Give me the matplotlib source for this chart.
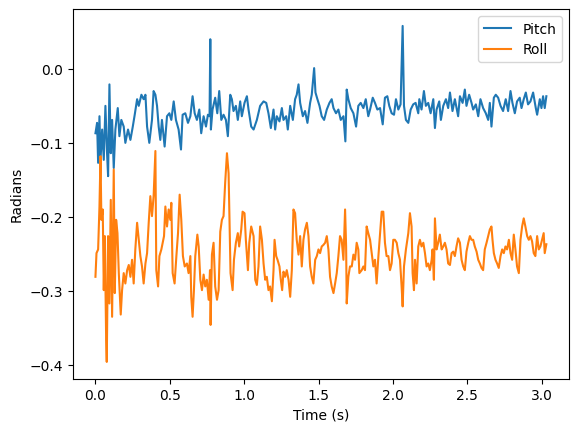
import matplotlib
matplotlib.use("Agg")
import matplotlib.pyplot as plt

# values (time in s, angle in radians)
pitch_t = [0.000, 0.011, 0.018, 0.027, 0.034, 0.045, 0.056, 0.067, 0.078, 0.085,
           0.094, 0.103, 0.112, 0.123, 0.134, 0.150, 0.161, 0.174, 0.190, 0.201,
           0.219, 0.235, 0.251, 0.264, 0.280, 0.291, 0.309, 0.324, 0.336, 0.347,
           0.362, 0.380, 0.391, 0.403, 0.414, 0.425, 0.436, 0.447, 0.465, 0.481,
           0.497, 0.510, 0.526, 0.541, 0.559, 0.575, 0.586, 0.604, 0.622, 0.638,
           0.653, 0.667, 0.682, 0.698, 0.711, 0.727, 0.743, 0.756, 0.767, 0.772,
           0.776, 0.787, 0.805, 0.819, 0.832, 0.846, 0.861, 0.877, 0.890, 0.906,
           0.917, 0.928, 0.944, 0.957, 0.973, 0.984, 1.002, 1.018, 1.029, 1.047,
           1.063,
           1.085, 1.107, 1.130, 1.148, 1.163, 1.179, 1.197, 1.208, 1.219, 1.237,
           1.253, 1.264, 1.282, 1.293, 1.309, 1.327, 1.342, 1.353, 1.365, 1.376,
           1.394, 1.409, 1.425, 1.443, 1.454, 1.470, 1.479, 1.492, 1.506, 1.521,
           1.537, 1.555, 1.573, 1.588, 1.600, 1.617, 1.633, 1.649, 1.667, 1.680,
           1.689, 1.700, 1.716, 1.734, 1.752, 1.767, 1.783, 1.801, 1.817, 1.834,
           1.846, 1.864, 1.879, 1.895, 1.913, 1.931, 1.946, 1.962, 1.975, 1.991,
           2.007, 2.020, 2.036, 2.051, 2.065, 2.074, 2.087, 2.103, 2.119, 2.136,
           2.152, 2.170,
           2.177, 2.192, 2.208, 2.221, 2.237, 2.253, 2.271, 2.282, 2.293, 2.311,
           2.322, 2.338, 2.356, 2.371, 2.383, 2.400, 2.416, 2.438, 2.450, 2.468,
           2.483, 2.494, 2.512, 2.528, 2.539, 2.557, 2.573, 2.588, 2.606, 2.624,
           2.640, 2.651, 2.662, 2.678, 2.691, 2.707, 2.723, 2.740, 2.758, 2.774,
           2.790, 2.803, 2.819, 2.834, 2.852, 2.864, 2.879, 2.893, 2.908, 2.924,
           2.942, 2.960, 2.969, 2.987, 2.998, 3.009, 3.020, 3.031]
pitch = [-0.087, -0.073, -0.127, -0.064, -0.123, -0.082, -0.123, -0.050, -0.114, -0.145,
         -0.021, -0.114, -0.069, -0.134, -0.082, -0.053, -0.091, -0.069, -0.078, -0.100,
         -0.082, -0.096, -0.078, -0.062, -0.041, -0.050, -0.035, -0.041, -0.035, -0.078,
         -0.100, -0.069, -0.030, -0.035, -0.050, -0.078, -0.096, -0.069, -0.105, -0.064,
         -0.060, -0.069, -0.044, -0.069, -0.082, -0.109, -0.062, -0.060, -0.073, -0.064,
         -0.037, -0.060, -0.069, -0.055, -0.087, -0.064, -0.078, -0.062, -0.064, 0.040,
         -0.082, -0.055, -0.039, -0.060, -0.030, -0.069, -0.062, -0.069, -0.091, -0.035,
         -0.041, -0.057, -0.050, -0.069, -0.044, -0.064, -0.046, -0.037, -0.055, -0.078,
         -0.082,
         -0.069, -0.050, -0.044, -0.046, -0.060, -0.080, -0.055, -0.082, -0.064, -0.071,
         -0.053, -0.069, -0.064, -0.082, -0.050, -0.069, -0.041, -0.035, -0.021, -0.046,
         -0.064, -0.057, -0.073, -0.046, -0.035, 0.001, -0.032, -0.041, -0.050, -0.064,
         -0.069, -0.055, -0.046, -0.041, -0.053, -0.060, -0.055, -0.069, -0.064, -0.098,
         -0.028, -0.041, -0.053, -0.060, -0.078, -0.050, -0.046, -0.053, -0.041, -0.064,
         -0.055, -0.039, -0.046, -0.055, -0.053, -0.075, -0.039, -0.037, -0.050, -0.060,
         -0.062, -0.041, -0.055, -0.048, 0.058, -0.050, -0.069, -0.073, -0.055, -0.048,
         -0.046, -0.060,
         -0.041, -0.055, -0.030, -0.050, -0.046, -0.060, -0.041, -0.080, -0.055, -0.044,
         -0.069, -0.050, -0.041, -0.053, -0.032, -0.057, -0.041, -0.064, -0.037, -0.046,
         -0.028, -0.050, -0.035, -0.046, -0.055, -0.048, -0.064, -0.041, -0.053, -0.060,
         -0.069, -0.046, -0.078, -0.039, -0.035, -0.039, -0.050, -0.057, -0.041, -0.057,
         -0.030, -0.046, -0.060, -0.044, -0.039, -0.053, -0.041, -0.032, -0.048, -0.044,
         -0.032, -0.053, -0.062, -0.041, -0.053, -0.037, -0.053, -0.037]

roll_t = [0.000, 0.007, 0.018, 0.027, 0.034, 0.040, 0.049, 0.056, 0.063, 0.072,
          0.076, 0.085, 0.094, 0.103, 0.112, 0.123, 0.130, 0.139, 0.148, 0.157,
          0.170, 0.179, 0.190, 0.201, 0.213, 0.224, 0.235, 0.246, 0.257, 0.268,
          0.280, 0.291, 0.302, 0.313, 0.324, 0.336, 0.347, 0.358, 0.369, 0.380,
          0.391, 0.403, 0.409, 0.421, 0.430, 0.443, 0.452, 0.461, 0.470, 0.481,
          0.492, 0.503, 0.510, 0.519, 0.532, 0.544, 0.555, 0.566, 0.577, 0.588,
          0.600, 0.615, 0.626, 0.638, 0.644, 0.653, 0.662, 0.671, 0.685, 0.694,
          0.705, 0.716, 0.727, 0.738, 0.749, 0.761, 0.770, 0.774, 0.783, 0.794,
          0.805, 0.817, 0.828, 0.839, 0.850, 0.861, 0.872, 0.884, 0.895, 0.908,
          0.922, 0.931, 0.944, 0.957, 0.966, 0.980, 0.989, 1.002, 1.011, 1.025,
          1.034, 1.047, 1.063,
          1.074, 1.085, 1.096, 1.107, 1.119, 1.130, 1.141, 1.152, 1.163, 1.174,
          1.186, 1.197, 1.204, 1.215, 1.224, 1.237, 1.246, 1.255, 1.264, 1.275,
          1.286, 1.298, 1.309, 1.320, 1.331, 1.342, 1.353, 1.365, 1.376, 1.387,
          1.398, 1.409, 1.421, 1.432, 1.443, 1.454, 1.465, 1.477, 1.488, 1.499,
          1.510, 1.521, 1.532, 1.544, 1.555, 1.566, 1.577, 1.588, 1.600, 1.611,
          1.622, 1.633, 1.644, 1.655, 1.667, 1.678, 1.685, 1.689, 1.700, 1.711,
          1.723, 1.734, 1.745, 1.756, 1.767, 1.774, 1.790, 1.801, 1.812, 1.823,
          1.834, 1.846, 1.857, 1.868, 1.879, 1.890, 1.902, 1.913, 1.924, 1.935,
          1.946, 1.957, 1.969, 1.980, 1.991, 2.002, 2.013, 2.025, 2.036, 2.047,
          2.058, 2.065, 2.074, 2.087, 2.103, 2.114, 2.125, 2.132, 2.141, 2.148,
          2.159, 2.170, 2.181,
          2.192, 2.204, 2.215, 2.226, 2.237, 2.248, 2.260, 2.266, 2.275, 2.282,
          2.293, 2.304, 2.315, 2.327, 2.338, 2.349, 2.360, 2.371, 2.383, 2.394,
          2.405, 2.416, 2.427, 2.438, 2.450, 2.461, 2.472, 2.483, 2.494, 2.506,
          2.517, 2.528, 2.539, 2.550, 2.562, 2.573, 2.584, 2.595, 2.606, 2.617,
          2.629, 2.640, 2.651, 2.662, 2.669, 2.678, 2.689, 2.700, 2.711, 2.723,
          2.734, 2.745, 2.756, 2.767, 2.779, 2.790, 2.801, 2.812, 2.823, 2.834,
          2.846, 2.857, 2.868, 2.879, 2.890, 2.902, 2.913, 2.924, 2.935, 2.946,
          2.957, 2.969, 2.980, 2.991, 3.002, 3.013, 3.020, 3.031]
roll = [-0.281, -0.249, -0.244, -0.186, -0.118, -0.204, -0.190, -0.299, -0.226, -0.366,
        -0.396, -0.226, -0.317, -0.177, -0.335, -0.136, -0.303, -0.204, -0.222, -0.276,
        -0.332, -0.299, -0.276, -0.290, -0.272, -0.265, -0.281, -0.258, -0.290, -0.244,
        -0.208, -0.231, -0.253, -0.267, -0.290, -0.263, -0.249, -0.208, -0.172, -0.199,
        -0.172, -0.111, -0.272, -0.294, -0.253, -0.244, -0.235, -0.226, -0.186, -0.213,
        -0.190, -0.204, -0.181, -0.276, -0.290, -0.253, -0.222, -0.170, -0.204, -0.253,
        -0.267, -0.263, -0.276, -0.253, -0.308, -0.335, -0.299, -0.253, -0.224, -0.240,
        -0.285, -0.299, -0.278, -0.294, -0.285, -0.312, -0.272, -0.346, -0.251, -0.235,
        -0.294, -0.312, -0.299, -0.220, -0.204, -0.199, -0.154, -0.114, -0.141, -0.276,
        -0.299, -0.258, -0.235, -0.222, -0.240, -0.217, -0.193, -0.195, -0.231, -0.272,
        -0.235, -0.213, -0.226,
        -0.285, -0.292, -0.267, -0.213, -0.231, -0.263, -0.285, -0.281, -0.299, -0.294,
        -0.314, -0.272, -0.231, -0.253, -0.258, -0.267, -0.285, -0.299, -0.274, -0.281,
        -0.272, -0.285, -0.308, -0.272, -0.190, -0.195, -0.231, -0.251, -0.226, -0.267,
        -0.231, -0.217, -0.208, -0.226, -0.267, -0.281, -0.290, -0.258, -0.253, -0.244,
        -0.249, -0.240, -0.238, -0.235, -0.226, -0.244, -0.281, -0.294, -0.303, -0.290,
        -0.276, -0.253, -0.226, -0.231, -0.258, -0.190, -0.240, -0.317, -0.281, -0.267,
        -0.267, -0.251, -0.258, -0.235, -0.244, -0.276, -0.272, -0.267, -0.272, -0.213,
        -0.222, -0.231, -0.249, -0.267, -0.258, -0.290, -0.253, -0.222, -0.193, -0.193,
        -0.235, -0.253, -0.253, -0.272, -0.263, -0.231, -0.231, -0.235, -0.249, -0.258,
        -0.294, -0.321, -0.267, -0.244, -0.222, -0.195, -0.213, -0.276, -0.299, -0.258,
        -0.290, -0.240, -0.231,
        -0.240, -0.235, -0.249, -0.267, -0.263, -0.272, -0.258, -0.244, -0.285, -0.202,
        -0.244, -0.235, -0.224, -0.244, -0.240, -0.235, -0.244, -0.263, -0.265, -0.249,
        -0.247, -0.253, -0.240, -0.229, -0.235, -0.258, -0.267, -0.272, -0.247, -0.235,
        -0.226, -0.231, -0.231, -0.240, -0.247, -0.258, -0.263, -0.269, -0.272, -0.244,
        -0.235, -0.226, -0.217, -0.213, -0.231, -0.249, -0.258, -0.263, -0.269, -0.253,
        -0.244, -0.249, -0.240, -0.244, -0.231, -0.249, -0.258, -0.224, -0.244, -0.267,
        -0.276, -0.231, -0.213, -0.202, -0.213, -0.226, -0.231, -0.226, -0.233, -0.249,
        -0.253, -0.226, -0.244, -0.240, -0.231, -0.222, -0.249, -0.237]

fig, ax = plt.subplots(figsize=(6.4, 4.8), dpi=100)
ax.plot(pitch_t, pitch, label="Pitch")
ax.plot(roll_t, roll, label="Roll")
ax.set_xlabel("Time (s)")
ax.set_ylabel("Radians")
ax.legend(loc="upper right")
plt.savefig("out.png", bbox_inches="tight")
